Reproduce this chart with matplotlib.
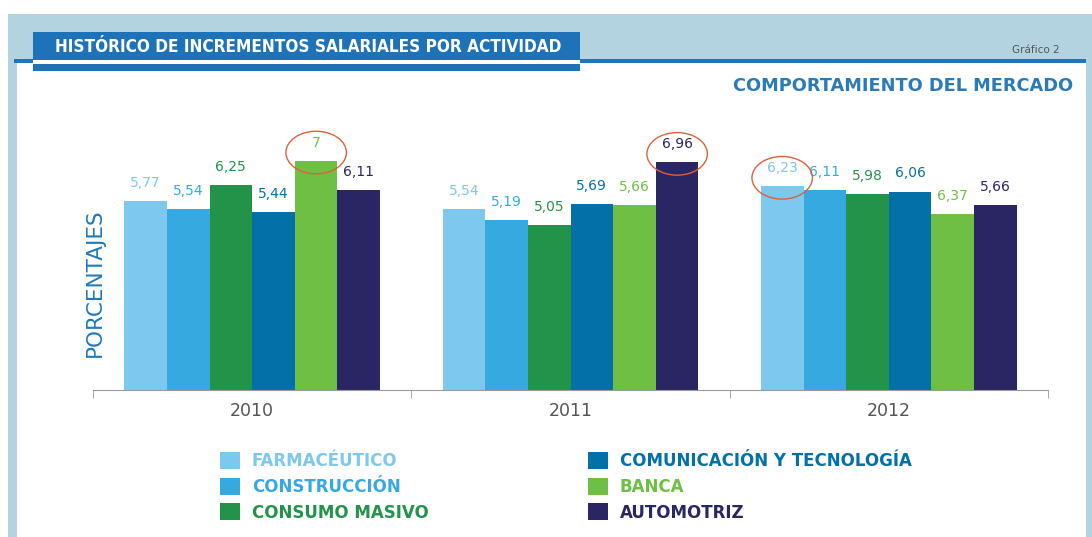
import numpy as np
import matplotlib
matplotlib.use('Agg')
import matplotlib.pyplot as plt
from matplotlib.patches import Rectangle, Ellipse, Patch

years = ['2010', '2011', '2012']
series = ['FARMACÉUTICO', 'CONSTRUCCIÓN', 'CONSUMO MASIVO',
          'COMUNICACIÓN Y TECNOLOGÍA', 'BANCA', 'AUTOMOTRIZ']
colors = ['#7dc8ee', '#36a9e1', '#24934a', '#0470a8', '#6fbf45', '#2a2563']

# printed values per series (2010, 2011, 2012)
farmaceutico = [5.77, 5.54, 6.23]
construccion = [5.54, 5.19, 6.11]
consumo = [6.25, 5.05, 5.98]
comunicacion = [5.44, 5.69, 6.06]
banca = [7.00, 5.66, 6.37]
automotriz = [6.11, 6.96, 5.66]
# the source draws the 2012 BANCA bar lower than its label says
banca_drawn = [7.00, 5.66, 5.37]

values = [farmaceutico, construccion, consumo, comunicacion, banca, automotriz]
drawn = [farmaceutico, construccion, consumo, comunicacion, banca_drawn, automotriz]
# (year index, series index) of the circled values
highlights = [(0, 4), (1, 5), (2, 0)]

W, H = 1092, 537
fig = plt.figure(figsize=(W / 100, H / 100), dpi=100)


def box(x0, y0, x1, y1, color, z=-5):
    # rectangle given in pixel coords of the picture (y down)
    fig.add_artist(Rectangle((x0 / W, 1 - y1 / H), (x1 - x0) / W, (y1 - y0) / H,
                             transform=fig.transFigure, facecolor=color,
                             edgecolor='none', zorder=z))


# frame
box(8, 14, 1092, 537, '#b3d3e0')
box(14, 62, 1086, 537, 'white')
box(14, 62, 17, 537, '#b9cfe8')
box(14, 59, 1086, 63, '#1f74bb')
box(33, 32, 580, 60, '#1d72b8', z=-4)
box(33, 60, 580, 64, 'white', z=-4)
box(33, 64, 580, 71, '#1d72b8', z=-4)

ax = fig.add_axes([93 / W, 1 - 390 / H, 955 / W, 262 / H])
ax.set_facecolor('none')

x = np.arange(len(years))
bw = 0.134
for i, name in enumerate(series):
    pos = x + (i - 2.5) * bw
    ax.bar(pos, drawn[i], width=bw, color=colors[i], label=name, zorder=2)
    for j in range(len(years)):
        lab = '{:g}'.format(values[i][j]).replace('.', ',')
        ax.annotate(lab, (pos[j], drawn[i][j]), xytext=(0, 13),
                    textcoords='offset points', ha='center', va='center',
                    fontsize=10, color=colors[i])

for j, i in highlights:
    ax.add_patch(Ellipse((x[j] + (i - 2.5) * bw, drawn[i][j] + 0.25), 0.19, 1.3,
                         facecolor='none', edgecolor='#e0603c', lw=1.0,
                         clip_on=False, zorder=3))

ax.set_xlim(-0.5, 2.5)
ax.set_ylim(0, 8)
ax.set_yticks([])
for s in ['top', 'right', 'left']:
    ax.spines[s].set_visible(False)
ax.spines['bottom'].set_color('#9a9a9a')
ax.set_xticks(x)
ax.set_xticklabels(years, fontsize=12.5, color='#555555')
ax.tick_params(axis='x', which='major', length=0, pad=9)
ax.set_xticks([-0.5, 0.5, 1.5, 2.5], minor=True)
ax.tick_params(axis='x', which='minor', length=6, color='#9a9a9a')

# texts
fig.text(95 / W, 1 - 283 / H, 'PORCENTAJES', rotation=90, ha='center', va='center',
         fontsize=15.5, color='#1f7ab8')
fig.text(1073 / W, 1 - 86 / H, 'COMPORTAMIENTO DEL MERCADO', ha='right', va='center',
         fontsize=12.8, fontweight='bold', color='#2b7bb9')
fig.text(1060 / W, 1 - 50 / H, 'Gráfico 2', ha='right', va='center',
         fontsize=7.5, color='#555555')
title = fig.text(55 / W, 1 - 47 / H, 'HISTÓRICO DE INCREMENTOS SALARIALES POR ACTIVIDAD',
                 ha='left', va='center', fontsize=16, fontweight='bold', color='white',
                 family='DejaVu Sans', fontstretch='condensed')
# squeeze the title into the blue box
fig.canvas.draw()
tw = title.get_window_extent().width
if tw > 510:
    title.set_fontsize(16 * 510 / tw)

# legend, two columns
handles = [Patch(facecolor=c, edgecolor='none') for c in colors]
for k, xl in enumerate([220, 588]):
    sl = slice(3 * k, 3 * k + 3)
    leg = fig.legend(handles[sl], series[sl], loc='upper left',
                     bbox_to_anchor=(xl / W, 1 - 452 / H), frameon=False,
                     borderpad=0, borderaxespad=0, handlelength=1.2, handleheight=1.2,
                     handletextpad=0.7, labelspacing=0.45,
                     prop={'size': 12, 'weight': 'bold'})
    for t, c in zip(leg.get_texts(), colors[sl]):
        t.set_color(c)

fig.savefig('out.png', dpi=100)
